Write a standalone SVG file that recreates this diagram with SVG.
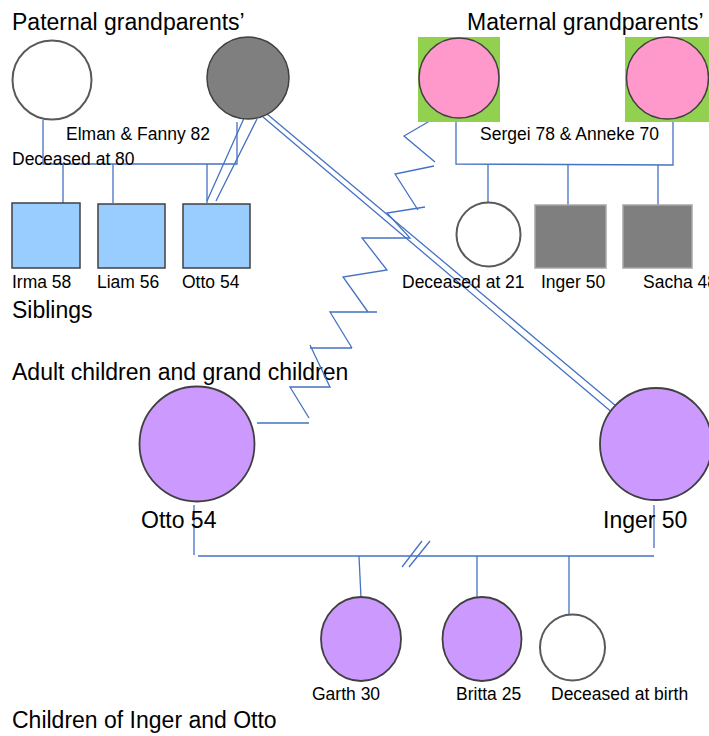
<svg xmlns="http://www.w3.org/2000/svg" width="709" height="736" viewBox="0 0 709 736">
<style>
text{font-family:"Liberation Sans",Arial,sans-serif;fill:#000}
.big{font-size:23px}
.lbl{font-size:17.5px}
.c{fill:none;stroke:#4472C4;stroke-width:1.3}
.open{fill:#fff;stroke:#595959;stroke-width:2}
.grey{fill:#7F7F7F;stroke:#404040;stroke-width:1.5}
.pink{fill:#FF99CC;stroke:#404040;stroke-width:1.5}
.green{fill:#92D050}
.blue{fill:#99CCFF;stroke:#404040;stroke-width:1.5}
.gsq{fill:#7F7F7F;stroke:#A6A6A6;stroke-width:1.5}
.purple{fill:#CC99FF;stroke:#404040;stroke-width:1.8}
</style>
<rect width="709" height="736" fill="#fff"/>

<g id="titles">
<text class="big" x="12" y="30">Paternal grandparents’</text>
<text class="big" x="467" y="30">Maternal grandparents’</text>
<text class="big" x="12" y="318">Siblings</text>
<text class="big" x="12" y="380">Adult children and grand children</text>
<text class="big" x="12" y="728">Children of Inger and Otto</text>
</g>

<g id="connectors">
<!-- paternal -->
<path class="c" d="M43,120 V164 H237 V122"/>
<path class="c" d="M63,164 V203 M113,164 V203 M207,164 V203"/>
<path class="c" d="M249,107 L207,201 M257,119 L216,201"/>
<!-- Fanny to Inger double line -->
<path class="c" d="M267,114 L622,411 M263,117 L627,425"/>
<!-- maternal -->
<path class="c" d="M456,120 V164 L673,165 V120"/>
<path class="c" d="M488,164 V202 M568,164 V205 M658,165 V205"/>
<!-- zigzag Otto to maternal -->
<path class="c" d="M440,115 L404,136 L435,162 M434,166 L395,174 L418,210 M425,207 L387,213 L410,238 L362,238 L387,270 L343,277 L368,312 M377,312 L330,312 L352,348 M352,348 L310,348 M310,345 L330,387 L290,387 L309,418 M309,423 L257,423"/>
<!-- Otto & Inger children -->
<path class="c" d="M194,505 V555 M198,556 H654 M654,505 V548"/>
<path class="c" d="M359,556 L361,598 M477,556 V598 M569,556 V615"/>
<path class="c" d="M402,567 L422,541 M409,567 L430,541"/>
</g>

<g id="elman">
<circle class="open" cx="52" cy="80" r="39.5"/>
<text class="lbl" x="12" y="165">Deceased at 80</text>
</g>
<g id="fanny">
<circle class="grey" cx="248" cy="78" r="41"/>
<text class="lbl" x="66" y="140">Elman &amp; Fanny 82</text>
</g>

<g id="sergei">
<rect class="green" x="418" y="37" width="82" height="85"/>
<circle class="pink" cx="459" cy="78" r="40"/>
<text class="lbl" x="480" y="140">Sergei 78 &amp; Anneke 70</text>
</g>
<g id="anneke">
<rect class="green" x="625" y="37" width="84" height="85"/>
<circle class="pink" cx="667.5" cy="78" r="41"/>
</g>

<g id="irma">
<rect class="blue" x="12" y="203" width="68" height="65"/>
<text class="lbl" x="12" y="288">Irma 58</text>
</g>
<g id="liam">
<rect class="blue" x="98" y="204" width="67" height="64"/>
<text class="lbl" x="97" y="288">Liam 56</text>
</g>
<g id="otto-sibling">
<rect class="blue" x="183" y="204" width="67" height="64"/>
<text class="lbl" x="182" y="288">Otto 54</text>
</g>

<g id="deceased21">
<circle class="open" cx="488.5" cy="234.5" r="32"/>
<text class="lbl" x="402" y="288">Deceased at 21</text>
</g>
<g id="inger-sibling">
<rect class="gsq" x="535" y="205" width="71" height="63"/>
<text class="lbl" x="541" y="288">Inger 50</text>
</g>
<g id="sacha">
<rect class="gsq" x="623" y="205" width="69" height="63"/>
<text class="lbl" x="643" y="288">Sacha 48</text>
</g>

<g id="otto">
<circle class="purple" cx="197" cy="444" r="57.5"/>
<text class="big" x="141" y="528">Otto 54</text>
</g>
<g id="inger">
<circle class="purple" cx="656" cy="444" r="56"/>
<text class="big" x="603" y="528">Inger 50</text>
</g>

<g id="garth">
<ellipse class="purple" cx="361" cy="639" rx="40" ry="42"/>
<text class="lbl" x="312" y="700">Garth 30</text>
</g>
<g id="britta">
<ellipse class="purple" cx="482" cy="639" rx="39.5" ry="42"/>
<text class="lbl" x="456" y="700">Britta 25</text>
</g>
<g id="deceased-birth">
<ellipse class="open" cx="572.5" cy="647.5" rx="32.5" ry="33"/>
<text class="lbl" x="551" y="700">Deceased at birth</text>
</g>
</svg>
